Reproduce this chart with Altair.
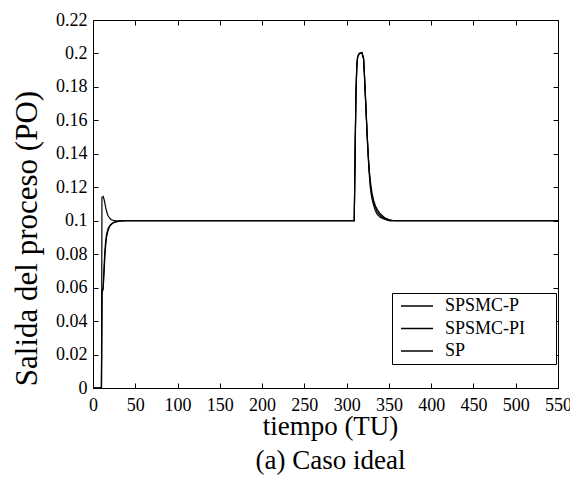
import altair as alt
import pandas as pd

FONT = "Liberation Serif"

series_names = ["SPSMC-P", "SPSMC-PI", "SP"]

# SPSMC-P: slow rise at start, fast tail after the disturbance
t_spsmc_p = [0, 10, 10.6, 12, 13, 14, 15, 16, 18, 20, 22, 25, 30, 35, 40,
             309, 310, 311, 312, 313, 315, 318, 320, 321, 322, 323, 324, 325,
             326, 327, 328, 329, 330, 332, 334, 336, 340, 344, 350, 550]
y_spsmc_p = [0, 0, 0.057, 0.06, 0.072, 0.082, 0.088, 0.092, 0.0955, 0.0972, 0.0982, 0.099, 0.0996, 0.0999, 0.1,
             0.1, 0.14, 0.175, 0.192, 0.198, 0.2, 0.2005, 0.197, 0.187, 0.176, 0.165, 0.153, 0.143,
             0.134, 0.126, 0.12, 0.116, 0.113, 0.109, 0.106, 0.104, 0.102, 0.101, 0.1, 0.1]

# SPSMC-PI: similar slow rise, tail close to SPSMC-P
t_spsmc_pi = [0, 10, 10.6, 12, 13, 14, 15, 16, 18, 20, 23, 26, 30, 36, 42,
              309, 310, 311, 312, 313, 315, 318, 320, 321, 322, 323, 324, 325,
              326, 327, 328, 329, 330, 332, 334, 336, 340, 345, 351, 550]
y_spsmc_pi = [0, 0, 0.057, 0.059, 0.068, 0.078, 0.085, 0.09, 0.0945, 0.0968, 0.0985, 0.0993, 0.0997, 0.1, 0.1,
              0.1, 0.14, 0.176, 0.193, 0.198, 0.2, 0.2005, 0.197, 0.188, 0.177, 0.166, 0.154, 0.144,
              0.135, 0.128, 0.122, 0.118, 0.115, 0.111, 0.108, 0.1055, 0.103, 0.1013, 0.1, 0.1]

# SP: overshoot at start, slower tail after the disturbance
t_sp = [0, 10, 10.6, 12, 13, 14, 15, 16, 17, 18, 20, 22, 24, 27, 30,
        309, 310, 311, 312, 313, 315, 318, 320, 321, 322, 323, 324, 325,
        326, 327, 328, 329, 330, 332, 334, 337, 340, 345, 350, 356, 550]
y_sp = [0, 0, 0.114, 0.1145, 0.113, 0.1105, 0.108, 0.1058, 0.104, 0.1028, 0.1013, 0.1006, 0.1002, 0.1, 0.1,
        0.1, 0.14, 0.175, 0.192, 0.198, 0.2, 0.2005, 0.197, 0.188, 0.177, 0.166, 0.155, 0.145,
        0.136, 0.129, 0.124, 0.12, 0.1165, 0.112, 0.109, 0.106, 0.104, 0.1018, 0.1007, 0.1, 0.1]

x_ticks = [0, 50, 100, 150, 200, 250, 300, 350, 400, 450, 500, 550]
y_ticks = [0, 0.02, 0.04, 0.06, 0.08, 0.1, 0.12, 0.14, 0.16, 0.18, 0.2, 0.22]

rows = []
for name, ts, ys in [("SPSMC-P", t_spsmc_p, y_spsmc_p),
                     ("SPSMC-PI", t_spsmc_pi, y_spsmc_pi),
                     ("SP", t_sp, y_sp)]:
    assert len(ts) == len(ys), name
    for i, (t, y) in enumerate(zip(ts, ys)):
        rows.append({"serie": name, "t": t, "y": y, "i": i})
df = pd.DataFrame(rows)

xscale = alt.Scale(domain=[0, 550], nice=False, zero=False)
yscale = alt.Scale(domain=[0, 0.22], nice=False)

base = alt.Chart(df)

pad = "\u2800\u2800"

lines = base.mark_line(strokeWidth=1.2).encode(
    x=alt.X("t:Q", scale=xscale,
            axis=alt.Axis(values=x_ticks, format="d", ticks=False, domain=False, grid=False,
                          labelFont=FONT, labelFontSize=18, labelColor="black", labelPadding=8,
                          title=["tiempo (TU)", "(a) Caso ideal"], titleFont=FONT,
                          titleFontSize=27, titleFontWeight="normal", titleColor="black",
                          titleLineHeight=34, titleBaseline="alphabetic", titleX=237, titleY=46,
                          labelFlush=False, labelOverlap=False)),
    y=alt.Y("y:Q", scale=yscale,
            axis=alt.Axis(values=y_ticks, format="~g", ticks=False, domain=False, grid=False,
                          labelFont=FONT, labelFontSize=18, labelColor="black", labelPadding=6,
                          title="Salida del proceso (PO)", titleFont=FONT, titleFontSize=31,
                          titleFontWeight="normal", titleColor="black", titleX=-66, titleY=218,
                          titleBaseline="middle", titleAngle=270,
                          labelFlush=False, labelOverlap=False)),
    color=alt.Color("serie:N", scale=alt.Scale(domain=series_names, range=["black", "black", "black"]),
                    legend=alt.Legend(title=None, orient="none", legendX=299, legendY=273,
                                      direction="vertical", symbolType="M-2,0H2", symbolSize=256,
                                      symbolOffset=12, symbolStrokeWidth=1.5,
                                      labelFont=FONT, labelFontSize=18,
                                      labelColor="black", strokeColor="black", fillColor="white",
                                      padding=4, rowPadding=4.5, labelOffset=19,
                                      labelExpr="datum.label + '" + pad + "'")),
    order=alt.Order("i:Q"),
)


def tick_layer(channel, orient):
    ax = alt.Axis(orient=orient, offset=-5, tickSize=5, labels=False, domain=False,
                  grid=False, title=None, tickColor="black",
                  values=x_ticks if channel == "x" else y_ticks)
    if channel == "x":
        enc = dict(x=alt.X("t:Q", scale=xscale, axis=ax), y=alt.Y("y:Q", scale=yscale, axis=None))
    else:
        enc = dict(y=alt.Y("y:Q", scale=yscale, axis=ax), x=alt.X("t:Q", scale=xscale, axis=None))
    return base.mark_point(opacity=0).encode(**enc)


chart = alt.layer(
    lines,
    tick_layer("x", "bottom"),
    tick_layer("x", "top"),
    tick_layer("y", "left"),
    tick_layer("y", "right"),
).resolve_axis(x="independent", y="independent").properties(
    width=465, height=368,
    padding={"left": 85, "top": 12, "right": 12, "bottom": 88},
    autosize=alt.AutoSizeParams(type="none"),
).configure(font=FONT).configure_axis(
    labelFont=FONT, titleFont=FONT
).configure_legend(
    labelFont=FONT
).configure_view(stroke="black", strokeWidth=1)

chart.save("out.html", embed_options={"renderer": "svg", "actions": False})
